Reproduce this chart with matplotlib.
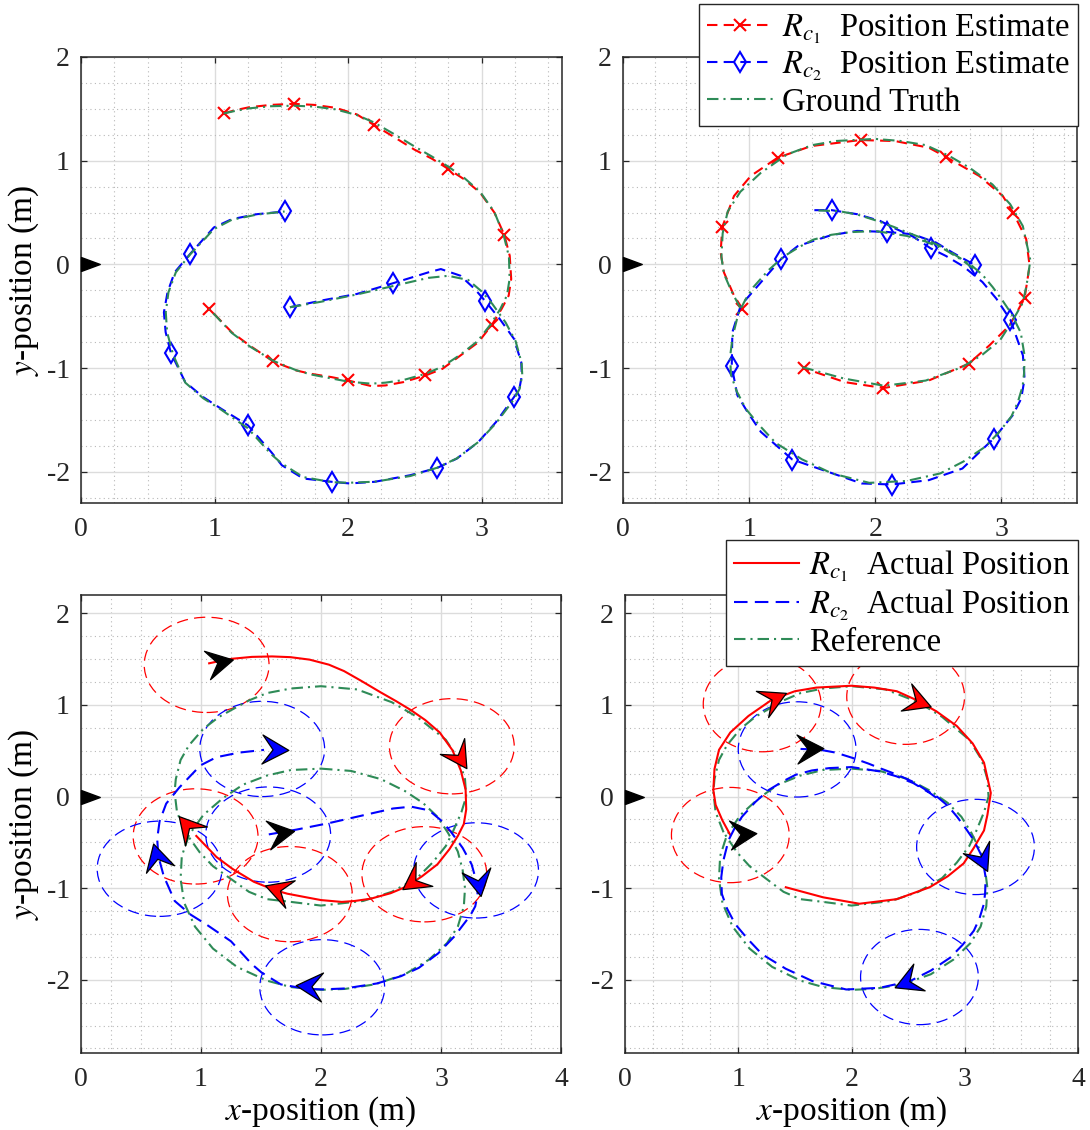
"""Two-robot position estimates and tracking, 2x2 panel figure."""
import matplotlib
matplotlib.use("Agg")  # Non-interactive backend
import matplotlib.pyplot as plt
from matplotlib.lines import Line2D
from matplotlib.markers import MarkerStyle
from matplotlib.path import Path
from matplotlib.ticker import MultipleLocator
from matplotlib.transforms import Affine2D

plt.rcParams["font.family"] = ["Liberation Serif", "DejaVu Serif"]
plt.rcParams["mathtext.fontset"] = "stix"
plt.rcParams["axes.unicode_minus"] = False

# ---------------- data ----------------
origin_x, origin_y = 0.0, 0.0

# left column: Rc1 estimate / ground truth
est1_left_x = [1.068, 1.156, 1.263, 1.424, 1.592, 1.745, 1.905, 2.066, 2.192, 2.333, 2.494, 2.628, 2.748,
               2.869, 2.989, 3.096, 3.171, 3.211, 3.222, 3.203, 3.150, 3.077, 2.976, 2.842, 2.708, 2.580,
               2.414, 2.280, 2.173, 2.000, 1.878, 1.718, 1.611, 1.440, 1.263, 1.129, 0.961]
est1_left_y = [1.455, 1.487, 1.516, 1.538, 1.548, 1.538, 1.510, 1.446, 1.346, 1.237, 1.109, 1.019, 0.923,
               0.821, 0.692, 0.500, 0.282, 0.083, -0.141, -0.301, -0.429, -0.583, -0.750, -0.878, -1.006,
               -1.071, -1.135, -1.167, -1.173, -1.119, -1.087, -1.054, -1.022, -0.936, -0.782, -0.654, -0.429]
est1_left_marks = [0, 4, 8, 12, 16, 21, 25, 29, 33, 36]
true1_left_x = [1.068, 1.156, 1.263, 1.424, 1.592, 1.745, 1.905, 2.066, 2.192, 2.333, 2.494, 2.628, 2.748,
                2.869, 2.989, 3.096, 3.165, 3.205, 3.210, 3.190, 3.140, 3.070, 2.970, 2.842, 2.708, 2.580,
                2.414, 2.280, 2.173, 2.000, 1.878, 1.718, 1.611, 1.440, 1.263, 1.129, 0.961]
true1_left_y = [1.455, 1.480, 1.505, 1.525, 1.530, 1.522, 1.495, 1.440, 1.370, 1.265, 1.140, 1.040, 0.945,
                0.835, 0.700, 0.505, 0.285, 0.075, -0.140, -0.300, -0.430, -0.575, -0.740, -0.870, -0.985,
                -1.055, -1.115, -1.140, -1.150, -1.130, -1.100, -1.060, -1.020, -0.930, -0.790, -0.660, -0.430]

# left column: Rc2 estimate / ground truth
est2_left_x = [1.565, 1.798, 2.066, 2.333, 2.601, 2.695, 2.842, 2.949, 3.029, 3.136, 3.243, 3.297, 3.302,
               3.283, 3.243, 3.109, 2.976, 2.815, 2.668, 2.467, 2.200, 2.012, 1.878, 1.664, 1.504, 1.424,
               1.250, 1.049, 0.915, 0.781, 0.674, 0.634, 0.621, 0.648, 0.701, 0.816, 0.995, 1.129, 1.317, 1.525]
est2_left_y = [-0.413, -0.349, -0.285, -0.183, -0.077, -0.045, -0.109, -0.237, -0.356, -0.526, -0.718,
               -0.942, -1.071, -1.199, -1.279, -1.519, -1.712, -1.872, -1.962, -2.032, -2.096, -2.112,
               -2.096, -2.064, -1.936, -1.808, -1.551, -1.391, -1.279, -1.135, -0.856, -0.654, -0.462,
               -0.269, -0.077, 0.099, 0.356, 0.436, 0.484, 0.510]
est2_left_marks = [0, 3, 8, 14, 18, 22, 26, 30, 35, 39]
true2_left_x = [1.565, 1.798, 2.066, 2.333, 2.601, 2.750, 2.900, 3.000, 3.080, 3.180, 3.255, 3.300, 3.305,
                3.285, 3.243, 3.109, 2.976, 2.815, 2.668, 2.467, 2.200, 2.012, 1.878, 1.664, 1.504, 1.424,
                1.250, 1.049, 0.915, 0.781, 0.690, 0.645, 0.635, 0.655, 0.710, 0.820, 0.995, 1.129, 1.317, 1.525]
true2_left_y = [-0.413, -0.360, -0.290, -0.210, -0.130, -0.110, -0.150, -0.260, -0.380, -0.560, -0.740,
                -0.950, -1.071, -1.199, -1.300, -1.530, -1.712, -1.870, -1.960, -2.040, -2.095, -2.105,
                -2.100, -2.050, -1.920, -1.830, -1.580, -1.400, -1.290, -1.140, -0.870, -0.654, -0.462,
                -0.269, -0.077, 0.100, 0.340, 0.430, 0.480, 0.510]

# right column: Rc1 estimate / ground truth
est1_right_x = [0.947, 0.880, 0.800, 0.774, 0.787, 0.880, 1.013, 1.226, 1.493, 1.884, 2.158, 2.425, 2.558,
                2.824, 3.011, 3.096, 3.197, 3.224, 3.184, 3.064, 2.904, 2.740, 2.425, 2.065, 1.759, 1.431]
est1_right_y = [-0.429, -0.301, -0.077, 0.115, 0.362, 0.660, 0.853, 1.029, 1.141, 1.199, 1.189, 1.125, 1.038,
                0.853, 0.660, 0.494, 0.244, -0.013, -0.327, -0.590, -0.782, -0.958, -1.119, -1.192, -1.135, -1.000]
est1_right_marks = [0, 4, 7, 9, 12, 15, 18, 21, 23, 25]
true1_right_x = [0.930, 0.860, 0.800, 0.780, 0.790, 0.830, 0.930, 1.090, 1.300, 1.500, 1.690, 2.000, 2.200,
                 2.400, 2.580, 2.750, 2.930, 3.070, 3.170, 3.230, 3.200, 3.170, 3.080, 2.990, 2.850, 2.690,
                 2.400, 2.070, 1.750, 1.420]
true1_right_y = [-0.420, -0.260, -0.090, 0.070, 0.300, 0.510, 0.700, 0.880, 1.060, 1.150, 1.190, 1.210, 1.190,
                 1.150, 1.050, 0.930, 0.770, 0.580, 0.370, 0.040, -0.200, -0.370, -0.560, -0.730, -0.870,
                 -0.990, -1.120, -1.170, -1.100, -0.990]

# right column: Rc2 estimate / ground truth
est2_right_x = [1.517, 1.655, 1.856, 2.039, 2.170, 2.300, 2.439, 2.561, 2.700, 2.850, 2.960, 3.072, 3.171,
                3.184, 3.157, 3.090, 2.939, 2.691, 2.425, 2.132, 1.892, 1.626, 1.342, 1.093, 0.987, 0.907,
                0.862, 0.867, 0.933, 1.093, 1.253, 1.386, 1.648, 1.856, 2.091, 2.300, 2.483, 2.614, 2.790]
est2_right_y = [0.523, 0.523, 0.484, 0.419, 0.339, 0.268, 0.155, 0.081, -0.020, -0.170, -0.330, -0.535,
                -0.878, -1.103, -1.295, -1.455, -1.679, -1.968, -2.080, -2.122, -2.112, -2.000, -1.881,
                -1.615, -1.423, -1.263, -0.984, -0.654, -0.397, -0.173, 0.051, 0.177, 0.281, 0.323, 0.313,
                0.290, 0.210, 0.113, -0.006]
est2_right_marks = [1, 6, 11, 16, 19, 22, 26, 30, 34, 38]
true2_right_x = [1.550, 1.715, 1.860, 2.012, 2.150, 2.249, 2.400, 2.546, 2.660, 2.754, 2.850, 2.932, 3.010,
                 3.080, 3.154, 3.184, 3.180, 3.169, 3.130, 3.080, 2.980, 2.872, 2.700, 2.516, 2.249, 1.953,
                 1.656, 1.420, 1.211, 1.080, 0.973, 0.900, 0.855, 0.850, 0.869, 0.914, 0.970, 1.033, 1.150,
                 1.270, 1.400, 1.507, 1.650, 1.804, 2.000, 2.249, 2.400, 2.546, 2.694, 2.800]
true2_right_y = [0.520, 0.513, 0.480, 0.421, 0.360, 0.311, 0.240, 0.160, 0.070, 0.000, -0.100, -0.220,
                 -0.350, -0.476, -0.659, -0.879, -1.050, -1.172, -1.330, -1.465, -1.620, -1.758, -1.900,
                 -2.015, -2.088, -2.106, -2.015, -1.880, -1.722, -1.550, -1.392, -1.220, -1.062, -0.880,
                 -0.696, -0.476, -0.340, -0.220, -0.060, 0.073, 0.170, 0.238, 0.285, 0.311, 0.322, 0.275,
                 0.220, 0.147, 0.037, -0.060]

# reference loops (bottom row)
ref1_x = [0.87, 0.80, 0.78, 0.79, 0.83, 0.90, 1.02, 1.15, 1.26, 1.40, 1.55, 1.75, 2.00, 2.30, 2.59, 2.80,
          3.04, 3.15, 3.20, 3.21, 3.17, 3.10, 3.04, 2.93, 2.80, 2.59, 2.35, 2.00, 1.75, 1.55, 1.40, 1.25,
          1.10, 0.99, 0.87]
ref1_y = [-0.39, -0.17, 0.05, 0.19, 0.40, 0.56, 0.74, 0.87, 0.95, 1.05, 1.13, 1.18, 1.205, 1.17, 1.03, 0.87,
          0.62, 0.40, 0.19, 0.00, -0.17, -0.38, -0.54, -0.72, -0.89, -1.04, -1.14, -1.19, -1.15, -1.12,
          -1.04, -0.90, -0.76, -0.61, -0.39]
ref2_x = [2.00, 2.25, 2.50, 2.70, 2.85, 2.97, 3.06, 3.14, 3.18, 3.20, 3.19, 3.14, 3.05, 2.90, 2.70, 2.45,
          2.20, 2.00, 1.75, 1.55, 1.30, 1.10, 0.95, 0.86, 0.83, 0.84, 0.90, 1.02, 1.18, 1.35, 1.55, 1.75, 2.00]
ref2_y = [0.305, 0.28, 0.19, 0.06, -0.07, -0.22, -0.40, -0.60, -0.80, -1.00, -1.20, -1.42, -1.60, -1.78,
          -1.94, -2.05, -2.10, -2.11, -2.08, -2.01, -1.86, -1.66, -1.42, -1.16, -0.90, -0.65, -0.42, -0.20,
          -0.02, 0.13, 0.23, 0.29, 0.305]

# sensing circles and heading arrows (first entry = start pose, drawn black)
circle_radius = 0.52
bl_red_x = [1.047, 3.090, 2.861, 1.740, 0.955]
bl_red_y = [1.438, 0.549, -0.848, -1.065, -0.435]
bl_red_heading = [12, -57, -145, 161, 131]
bl_blue_x = [1.560, 1.510, 0.655, 3.292, 2.010]
bl_blue_y = [-0.415, 0.520, -0.788, -0.806, -2.082]
bl_blue_heading = [9, -2, 105, -80, 176]
br_red_x = [0.930, 1.211, 2.478]
br_red_y = [-0.420, 1.009, 1.090]
br_red_heading = [4, 25, -21]
br_blue_x = [1.520, 3.095, 2.600]
br_blue_y = [0.515, -0.550, -1.970]
br_blue_heading = [2, -65, -157]

# ---------------- styles ----------------
RED = "#ff0000"
BLUE = "#0000ff"
GREEN = "#2e8b57"
AXC = "#262626"
DASH = (0, (5, 3))
LONG_DASH = (0, (6.5, 3.5))
DASHDOT = (0, (5.5, 2.4, 1, 2.4))
CIRC_DASH = (0, (9, 5))

DART = Path([(1.0, 0.0), (0.0, 0.55), (0.4, 0.0), (0.0, -0.55), (1.0, 0.0)],
            [Path.MOVETO, Path.LINETO, Path.LINETO, Path.LINETO, Path.CLOSEPOLY])
TRI = Path([(0.0, -0.37), (1.0, 0.0), (0.0, 0.37), (0.0, -0.37)],
           [Path.MOVETO, Path.LINETO, Path.LINETO, Path.CLOSEPOLY])

TICK_FS = 20
LABEL_FS = 24
LEGEND_FS = 23.5


def style_axes(ax, xmax, ymin, ymax, xlabel=False, ylabel=False):
    ax.set_xlim(0, xmax)
    ax.set_ylim(ymin, ymax)
    for loc in (ax.xaxis, ax.yaxis):
        loc.set_major_locator(MultipleLocator(1))
        loc.set_minor_locator(MultipleLocator(0.25))
    ax.grid(True, which="major", color="#dcdcdc", lw=1.0, ls="-")
    ax.grid(True, which="minor", color="#b8b8b8", lw=0.8, ls=(0, (1, 3)))
    ax.set_axisbelow(True)
    ax.tick_params(which="major", direction="in", length=4, width=0.9, top=True, right=True,
                   colors=AXC, labelsize=TICK_FS)
    ax.tick_params(axis="x", which="major", pad=10)
    ax.tick_params(axis="y", which="major", pad=8)
    ax.tick_params(which="minor", length=0)
    for sp in ax.spines.values():
        sp.set_color(AXC)
        sp.set_linewidth(1.1)
    ax.plot(origin_x, origin_y, marker=TRI, ms=27, color="k", ls="none", clip_on=False, zorder=6)
    if xlabel:
        ax.set_xlabel(r"$x$-position (m)", fontsize=LABEL_FS, labelpad=2)
    if ylabel:
        ax.set_ylabel(r"$y$-position (m)", fontsize=LABEL_FS, labelpad=4)


def draw_estimate(ax, ex, ey, marks, tx, ty, color, marker, ms):
    ax.plot(ex, ey, color=color, ls=DASH, lw=1.5, marker=marker, markevery=marks, ms=ms,
            mew=1.5, mfc="none", zorder=3)
    ax.plot(tx, ty, color=GREEN, ls=DASHDOT, lw=1.5, zorder=4)


def draw_poses(ax, xs, ys, headings, color):
    for i, (x, y, h) in enumerate(zip(xs, ys, headings)):
        circ = plt.Circle((x, y), circle_radius, fill=False, ec=color, lw=0.9, ls=CIRC_DASH, zorder=2)
        ax.add_patch(circ)
        face = "k" if i == 0 else color
        ax.plot(x, y, marker=MarkerStyle(DART, transform=Affine2D().rotate_deg(h)), ms=38,
                mfc=face, mec="k", mew=0.9, ls="none", zorder=6)


fig = plt.figure(figsize=(10.9, 11.3), dpi=100)
ax_tl = fig.add_axes([0.0743, 0.5549, 0.4410, 0.3947])
ax_tr = fig.add_axes([0.5716, 0.5549, 0.4165, 0.3947])
ax_bl = fig.add_axes([0.0743, 0.0681, 0.4404, 0.4053])
ax_br = fig.add_axes([0.5734, 0.0681, 0.4156, 0.4053])

# top row: estimates vs ground truth
draw_estimate(ax_tl, est1_left_x, est1_left_y, est1_left_marks, true1_left_x, true1_left_y, RED, "x", 9)
draw_estimate(ax_tl, est2_left_x, est2_left_y, est2_left_marks, true2_left_x, true2_left_y, BLUE, "d", 10)
draw_estimate(ax_tr, est1_right_x, est1_right_y, est1_right_marks, true1_right_x, true1_right_y, RED, "x", 9)
draw_estimate(ax_tr, est2_right_x, est2_right_y, est2_right_marks, true2_right_x, true2_right_y, BLUE, "d", 10)
style_axes(ax_tl, 3.6, -2.3, 2.0, ylabel=True)
style_axes(ax_tr, 3.6, -2.3, 2.0)

# bottom row: actual positions vs reference
for ax, (r1x, r1y, r2x, r2y) in ((ax_bl, (true1_left_x, true1_left_y, true2_left_x, true2_left_y)),
                                 (ax_br, (true1_right_x, true1_right_y, true2_right_x, true2_right_y))):
    ax.plot(ref1_x, ref1_y, color=GREEN, ls=DASHDOT, lw=1.5, zorder=3)
    ax.plot(ref2_x, ref2_y, color=GREEN, ls=DASHDOT, lw=1.5, zorder=3)
    ax.plot(r1x, r1y, color=RED, ls="-", lw=1.5, zorder=4)
    ax.plot(r2x, r2y, color=BLUE, ls=LONG_DASH, lw=1.5, zorder=4)

draw_poses(ax_bl, bl_red_x, bl_red_y, bl_red_heading, RED)
draw_poses(ax_bl, bl_blue_x, bl_blue_y, bl_blue_heading, BLUE)
draw_poses(ax_br, br_red_x, br_red_y, br_red_heading, RED)
draw_poses(ax_br, br_blue_x, br_blue_y, br_blue_heading, BLUE)
style_axes(ax_bl, 4.0, -2.8, 2.2, xlabel=True, ylabel=True)
style_axes(ax_br, 4.0, -2.8, 2.2, xlabel=True)

# legends
top_handles = [
    Line2D([], [], color=RED, ls=DASH, lw=1.5, marker="x", ms=9, mew=1.5),
    Line2D([], [], color=BLUE, ls=DASH, lw=1.5, marker="d", ms=10, mew=1.5, mfc="none"),
    Line2D([], [], color=GREEN, ls=DASHDOT, lw=1.5),
]
top_labels = [r"$R_{c_1}$  Position Estimate", r"$R_{c_2}$  Position Estimate", "Ground Truth"]
bot_handles = [
    Line2D([], [], color=RED, ls="-", lw=1.5),
    Line2D([], [], color=BLUE, ls=LONG_DASH, lw=1.5),
    Line2D([], [], color=GREEN, ls=DASHDOT, lw=1.5),
]
bot_labels = [r"$R_{c_1}$  Actual Position", r"$R_{c_2}$  Actual Position", "Reference"]

for ax, handles, labels, anchor in ((ax_tr, top_handles, top_labels, (1078 / 1090, 1126 / 1130)),
                                    (ax_br, bot_handles, bot_labels, (1078 / 1090, 590 / 1130))):
    leg = ax.legend(handles, labels, loc="upper right", bbox_to_anchor=anchor,
                    bbox_transform=fig.transFigure, fontsize=LEGEND_FS, fancybox=False,
                    framealpha=1, edgecolor=AXC, borderpad=0.25, labelspacing=0.12,
                    handlelength=2.0, handletextpad=0.3, borderaxespad=0)
    leg.get_frame().set_linewidth(1.0)
    leg.set_zorder(10)

fig.savefig("out.png", dpi=100)
plt.close(fig)
